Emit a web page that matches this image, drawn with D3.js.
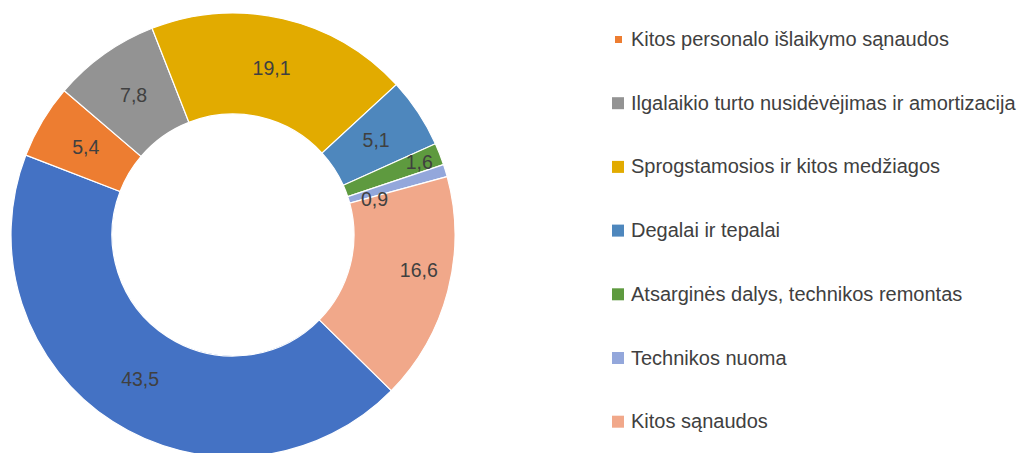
<!DOCTYPE html>
<html>
<head>
<meta charset="utf-8">
<script src="https://cdn.jsdelivr.net/npm/d3@7"></script>
<style>
    body { margin: 0; background: #fff; }
    svg { display: block; }
</style>
</head>
<body>
<svg id="chart"></svg>
<script>
// values (percent)
const categories = [
    'Darbo užmokestis',
    'Kitos personalo išlaikymo sąnaudos',
    'Ilgalaikio turto nusidėvėjimas ir amortizacija',
    'Sprogstamosios ir kitos medžiagos',
    'Degalai ir tepalai',
    'Atsarginės dalys, technikos remontas',
    'Technikos nuoma',
    'Kitos sąnaudos'
];
const values = [43.5, 5.4, 7.8, 19.1, 5.1, 1.6, 0.9, 16.6];
const valueLabels = ['43,5', '5,4', '7,8', '19,1', '5,1', '1,6', '0,9', '16,6'];
const colors = ['#4472C4', '#ED7D31', '#939393', '#E2AB00', '#4E87BD', '#5E9A3F', '#93A7DB', '#F1A88A'];

const W = 1024, H = 453;
const cx = 233, cy = 235;
const outerR = 222, innerR = 121;
const startDeg = 134.5;

const svg = d3.select('#chart').attr('width', W).attr('height', H);

const data = categories.map((c, i) => ({ name: c, value: values[i], label: valueLabels[i], color: colors[i] }));

const pie = d3.pie()
    .value(d => d.value)
    .sort(null)
    .startAngle(startDeg * Math.PI / 180)
    .endAngle((startDeg + 360) * Math.PI / 180);

const arc = d3.arc().innerRadius(innerR).outerRadius(outerR);

const g = svg.append('g').attr('transform', 'translate(' + cx + ',' + cy + ')');

const arcs = pie(data);

g.selectAll('path.slice')
    .data(arcs)
    .enter()
    .append('path')
    .attr('class', 'slice')
    .attr('d', arc)
    .attr('fill', d => d.data.color)
    .attr('stroke', '#fff')
    .attr('stroke-width', 1.2);

// some labels are pushed around like Excel does
const labelNudge = { 5: { r: 200, da: 0 }, 6: { r: 146, da: 2.5 }, 7: { r: 189, da: -4 } };

g.selectAll('text.val')
    .data(arcs)
    .enter()
    .append('text')
    .attr('class', 'val')
    .attr('transform', (d, i) => {
        let a = (d.startAngle + d.endAngle) / 2;
        let r = (innerR + outerR) / 2;
        if (labelNudge[i]) {
            r = labelNudge[i].r;
            a += labelNudge[i].da * Math.PI / 180;
        }
        return 'translate(' + (r * Math.sin(a)) + ',' + (-r * Math.cos(a)) + ')';
    })
    .attr('dy', '0.35em')
    .attr('text-anchor', 'middle')
    .style('font-family', '"Liberation Sans", Arial, sans-serif')
    .style('font-size', '19.5px')
    .attr('fill', '#404040')
    .text(d => d.data.label);

// legend: the first row falls above the visible area, so it is not drawn
const legendX = 612, legendTop = -24.2, legendStep = 63.7;
const legend = svg.append('g').attr('class', 'legend');

const rows = legend.selectAll('g.row')
    .data(data.map((d, i) => Object.assign({ idx: i }, d)).filter(d => d.idx > 0))
    .enter()
    .append('g')
    .attr('class', 'row')
    .attr('transform', d => 'translate(' + legendX + ',' + (legendTop + d.idx * legendStep) + ')');

rows.append('rect')
    .attr('x', d => d.idx === 1 ? 3 : 0)
    .attr('y', d => d.idx === 1 ? -3.5 : -6)
    .attr('width', d => d.idx === 1 ? 7 : 12)
    .attr('height', d => d.idx === 1 ? 7 : 12)
    .attr('fill', d => d.color);

const texts = rows.append('text')
    .attr('x', 19)
    .attr('y', 6.5)
    .style('font-family', '"Liberation Sans", Arial, sans-serif')
    .style('font-size', '20px')
    .attr('fill', '#404040')
    .text(d => d.name);

// fit to the narrow original face
let longest = 0;
texts.each(function() { longest = Math.max(longest, this.getComputedTextLength()); });
const squeeze = Math.min(1, 391 / longest);
texts.each(function() {
    const len = this.getComputedTextLength();
    d3.select(this).attr('textLength', len * squeeze).attr('lengthAdjust', 'spacingAndGlyphs');
});
</script>
</body>
</html>
